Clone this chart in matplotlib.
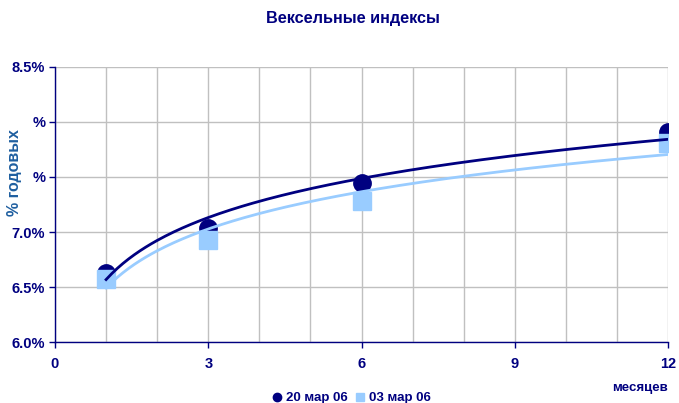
import numpy as np
import matplotlib
matplotlib.use("Agg")
import matplotlib.pyplot as plt
from matplotlib.lines import Line2D

plt.rcParams['font.family'] = ['Liberation Sans', 'DejaVu Sans']

months = [1, 3, 6, 12]
mar20 = [6.63, 7.04, 7.45, 7.91]
mar03 = [6.57, 6.93, 7.28, 7.81]
series_labels = ['20 мар 06', '03 мар 06']
ytick_vals = [6.0, 6.5, 7.0, 7.5, 8.0, 8.5]
ytick_labels = ['6.0%', '6.5%', '7.0%', '%', '%', '8.5%']
xtick_vals = [0, 3, 6, 9, 12]

navy = '#000080'
light = '#99CCFF'
textblue = '#000080'

fig = plt.figure(figsize=(6.79, 4.03), dpi=100)
ax = fig.add_axes([0.081, 0.151, 0.903, 0.683])

# markers
ax.plot(months, mar20, 'o', color=navy, markersize=12.5, zorder=3, linestyle='none')
ax.plot(months, mar03, 's', color=light, markersize=13, zorder=4, linestyle='none')

# logarithmic trend lines (fit from data)
xs = np.linspace(1, 12, 200)
for vals, col in [(mar20, navy), (mar03, light)]:
    b, a = np.polyfit(np.log(months), vals, 1)
    ax.plot(xs, a + b * np.log(xs), color=col, lw=2, zorder=5)

ax.set_xlim(0, 12)
ax.set_ylim(6.0, 8.5)
ax.set_xticks(xtick_vals)
ax.set_xticks(range(0, 13), minor=True)
ax.set_yticks(ytick_vals)
ax.set_yticklabels(ytick_labels)
ax.grid(True, which='both', axis='x', color='#C0C0C0', lw=1)
ax.grid(True, which='major', axis='y', color='#C0C0C0', lw=1)
ax.set_axisbelow(True)
ax.tick_params(axis='x', which='minor', length=0)
ax.tick_params(axis='both', which='major', colors=navy, labelcolor=textblue,
               labelsize=10.5, length=4, width=1)
ax.tick_params(axis='x', which='major', pad=7)
ax.tick_params(axis='y', which='major', pad=3)
for lab in ax.get_xticklabels() + ax.get_yticklabels():
    lab.set_fontweight('bold')
for s in ['top', 'right']:
    ax.spines[s].set_visible(False)
for s in ['left', 'bottom']:
    ax.spines[s].set_color(navy)
    ax.spines[s].set_linewidth(1)

fig.text(15 / 679, 1 - 173 / 403, '% годовых', ha='center', va='center', rotation=90,
         fontsize=11.5, fontweight='bold', color='#1F5FA0')
fig.text(353 / 679, 1 - 19 / 403, 'Вексельные индексы', ha='center', va='center',
         fontsize=11.7, fontweight='bold', color=textblue)
fig.text(0.943, 1 - 388 / 403, 'месяцев', ha='center', va='center',
         fontsize=9.5, fontweight='bold', color=textblue)

handles = [Line2D([], [], marker='o', color=navy, linestyle='none', markersize=6),
           Line2D([], [], marker='s', color=light, linestyle='none', markersize=6)]
leg = fig.legend(handles, series_labels, loc='center', bbox_to_anchor=(352 / 679, 1 - 398 / 403),
                 ncol=2, frameon=False, handlelength=0.6, handletextpad=0.4,
                 columnspacing=0.6, borderpad=0, prop={'size': 9.5, 'weight': 'bold'})
for t in leg.get_texts():
    t.set_color(textblue)

fig.savefig('out.png', dpi=100)
